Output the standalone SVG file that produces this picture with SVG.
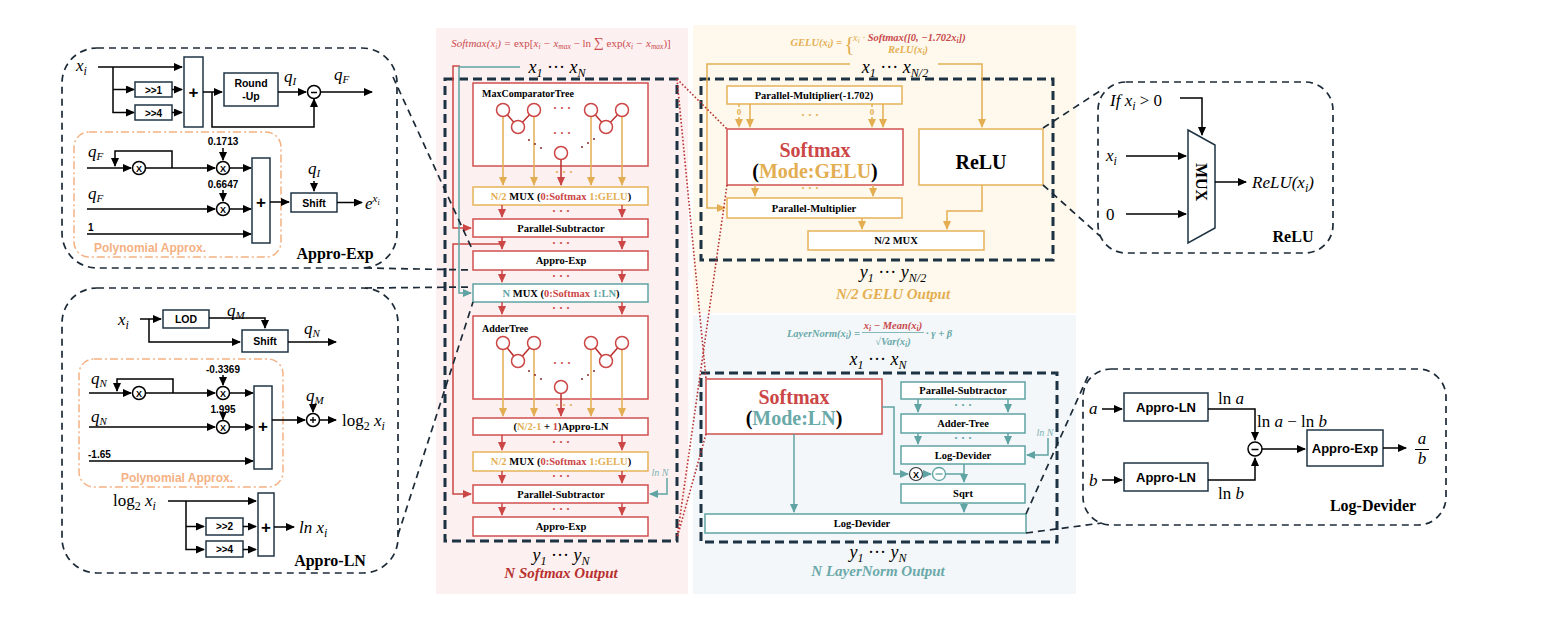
<svg xmlns="http://www.w3.org/2000/svg" width="1551" height="617" viewBox="0 0 1551 617">
<style>
.sf{font-family:"Liberation Sans",Arial,sans-serif;font-weight:bold}
.sr{font-family:"Liberation Serif","Times New Roman",serif;font-weight:bold}
.m{font-family:"Liberation Serif","DejaVu Serif",serif;font-style:italic}
.n{font-style:normal}
.k{stroke:#000;stroke-width:1.5;fill:none}
.kb{fill:#fff;stroke:#203545;stroke-width:1.5}
.zoom{fill:none;stroke:#1d2b38;stroke-width:1.7;stroke-dasharray:7 5}
.nv{fill:none;stroke:#1d3343;stroke-width:3;stroke-dasharray:9 5}
.poly{fill:none;stroke:#f4b183;stroke-width:1.5;stroke-dasharray:8 3 2 3}
.rb{fill:#fff;stroke:#d0504f;stroke-width:1.5}
.yb{fill:#fff;stroke:#e6b25a;stroke-width:1.5}
.tb{fill:#fff;stroke:#5fa3a3;stroke-width:1.5}
.ra{stroke:#cc4646;stroke-width:1.5;fill:none}
.ya{stroke:#e3ae52;stroke-width:1.5;fill:none}
.ta{stroke:#5fa3a3;stroke-width:1.5;fill:none}
.rd{stroke:#b8312f;stroke-width:1.6;fill:none;stroke-dasharray:1.6 2}
.ct{font-family:"Liberation Serif","Times New Roman",serif;font-weight:bold;font-size:10.5px;text-anchor:middle}
.cir{fill:#fff;stroke:#000;stroke-width:1.5}
.rc{fill:#fff;stroke:#cc4646;stroke-width:1.5}
.red{fill:#cc4646}.yel{fill:#e3ae52}.teal{fill:#5fa3a3}
</style>
<defs>
<marker id="ak" markerUnits="userSpaceOnUse" markerWidth="9" markerHeight="8" refX="8" refY="4" orient="auto"><path d="M0,0 L9,4 L0,8 z" fill="#000"/></marker>
<marker id="ar" markerUnits="userSpaceOnUse" markerWidth="9" markerHeight="8" refX="8" refY="4" orient="auto"><path d="M0,0 L9,4 L0,8 z" fill="#cc4646"/></marker>
<marker id="ay" markerUnits="userSpaceOnUse" markerWidth="9" markerHeight="8" refX="8" refY="4" orient="auto"><path d="M0,0 L9,4 L0,8 z" fill="#e3ae52"/></marker>
<marker id="at" markerUnits="userSpaceOnUse" markerWidth="9" markerHeight="8" refX="8" refY="4" orient="auto"><path d="M0,0 L9,4 L0,8 z" fill="#5fa3a3"/></marker>
</defs>

<!-- panel backgrounds -->
<rect x="436" y="28" width="252" height="566" fill="#fdf0f0"/>
<rect x="693" y="25" width="383" height="288" fill="#fef9ec"/>
<rect x="693" y="315" width="383" height="279" fill="#f3f7f9"/>

<!-- ============ Appro-Exp detail ============ -->
<g id="appro-exp">
<rect class="zoom" x="62" y="48" width="335" height="220" rx="35"/>
<text class="m" x="76" y="71" font-size="17">x<tspan font-size="12" dy="4">i</tspan></text>
<path class="k" d="M98,67 H182" marker-end="url(#ak)"/>
<path class="k" d="M113,67 V112.5 H134" marker-end="url(#ak)"/>
<path class="k" d="M113,89.5 H134" marker-end="url(#ak)"/>
<rect class="kb" x="135" y="82" width="37" height="15"/>
<text class="sf" x="153.5" y="93.5" font-size="10" text-anchor="middle">&gt;&gt;1</text>
<rect class="kb" x="135" y="105" width="37" height="15"/>
<text class="sf" x="153.5" y="116.5" font-size="10" text-anchor="middle">&gt;&gt;4</text>
<path class="k" d="M172,89.5 H182" marker-end="url(#ak)"/>
<path class="k" d="M172,112.5 H182" marker-end="url(#ak)"/>
<rect class="kb" x="184" y="57" width="19" height="70"/>
<text class="sf" x="193.5" y="98" font-size="17" text-anchor="middle" font-weight="normal">+</text>
<path class="k" d="M203,92 H222" marker-end="url(#ak)"/>
<path class="k" d="M212,92 V127 H314 V99" marker-end="url(#ak)"/>
<rect class="kb" x="224" y="73" width="54" height="33"/>
<text class="sf" x="251" y="87" font-size="10.5" text-anchor="middle">Round</text>
<text class="sf" x="251" y="100" font-size="10.5" text-anchor="middle">-Up</text>
<text class="m" x="284" y="82" font-size="17">q<tspan font-size="11" dy="3">I</tspan></text>
<path class="k" d="M278,92 H306" marker-end="url(#ak)"/>
<circle class="cir" cx="314" cy="92" r="6.5"/>
<path d="M311,92.5 H317" stroke="#000" stroke-width="1.5"/>
<text class="m" x="334" y="80" font-size="17">q<tspan font-size="11" dy="3">F</tspan></text>
<path class="k" d="M320.5,92 H372" marker-end="url(#ak)"/>

<rect class="poly" x="74" y="132" width="207" height="125" rx="15"/>
<text class="m" x="88" y="157" font-size="17">q<tspan font-size="11" dy="3">F</tspan></text>
<path class="k" d="M87,168 H131" marker-end="url(#ak)"/>
<path class="k" d="M145.5,168 H215" marker-end="url(#ak)"/>
<path class="k" d="M172,168 V151 H115 V166" marker-end="url(#ak)"/>
<circle class="cir" cx="139" cy="168" r="6.5"/>
<text class="sf" x="139" y="171.5" font-size="9" text-anchor="middle">X</text>
<text class="sf" x="223" y="145" font-size="10" text-anchor="middle">0.1713</text>
<path class="k" d="M223,148 V160" marker-end="url(#ak)"/>
<circle class="cir" cx="223" cy="168" r="6.5"/>
<text class="sf" x="223" y="171.5" font-size="9" text-anchor="middle">X</text>
<path class="k" d="M229.5,168 H251" marker-end="url(#ak)"/>
<text class="m" x="88" y="199" font-size="17">q<tspan font-size="11" dy="3">F</tspan></text>
<path class="k" d="M87,209 H215" marker-end="url(#ak)"/>
<text class="sf" x="223" y="188" font-size="10" text-anchor="middle">0.6647</text>
<path class="k" d="M223,190 V201" marker-end="url(#ak)"/>
<circle class="cir" cx="223" cy="209" r="6.5"/>
<text class="sf" x="223" y="212.5" font-size="9" text-anchor="middle">X</text>
<path class="k" d="M229.5,209 H251" marker-end="url(#ak)"/>
<text class="sf" x="88" y="231" font-size="10">1</text>
<path class="k" d="M87,234 H251" marker-end="url(#ak)"/>
<rect class="kb" x="252" y="158" width="18" height="85"/>
<text class="sf" x="261" y="208" font-size="17" text-anchor="middle" font-weight="normal">+</text>
<path class="k" d="M270,202 H289" marker-end="url(#ak)"/>
<rect class="kb" x="291" y="193" width="46" height="19"/>
<text class="sf" x="314" y="206.5" font-size="10.5" text-anchor="middle">Shift</text>
<text class="m" x="308" y="174" font-size="17">q<tspan font-size="11" dy="3">I</tspan></text>
<path class="k" d="M314,181 V191" marker-end="url(#ak)"/>
<path class="k" d="M337,202.5 H362" marker-end="url(#ak)"/>
<text class="m" x="365" y="209" font-size="17">e<tspan font-size="11" dy="-7">x</tspan><tspan font-size="8" dy="3">i</tspan></text>
<text class="sf" x="150" y="252" font-size="12" text-anchor="middle" fill="#f4b183">Polynomial Approx.</text>
<text class="sr" x="335" y="259" font-size="16" text-anchor="middle">Appro-Exp</text>
</g>

<!-- ============ Appro-LN detail ============ -->
<g id="appro-ln">
<rect class="zoom" x="62" y="288" width="336" height="285" rx="35"/>
<text class="m" x="118" y="325" font-size="17">x<tspan font-size="12" dy="4">i</tspan></text>
<path class="k" d="M140,319 H161" marker-end="url(#ak)"/>
<path class="k" d="M149,319 V342 H240" marker-end="url(#ak)"/>
<rect class="kb" x="163" y="310" width="46" height="18"/>
<text class="sf" x="186" y="323" font-size="10.5" text-anchor="middle">LOD</text>
<path class="k" d="M209,318 H265 V328" marker-end="url(#ak)"/>
<text class="m" x="227" y="316" font-size="17">q<tspan font-size="11" dy="3">M</tspan></text>
<rect class="kb" x="242" y="330" width="46" height="22"/>
<text class="sf" x="265" y="345" font-size="10.5" text-anchor="middle">Shift</text>
<path class="k" d="M288,342 H336" marker-end="url(#ak)"/>
<text class="m" x="304" y="334" font-size="17">q<tspan font-size="11" dy="3">N</tspan></text>

<rect class="poly" x="79" y="359" width="204" height="128" rx="15"/>
<text class="m" x="91" y="384" font-size="17">q<tspan font-size="11" dy="3">N</tspan></text>
<path class="k" d="M89,393 H131" marker-end="url(#ak)"/>
<path class="k" d="M145.5,393 H215" marker-end="url(#ak)"/>
<path class="k" d="M173,393 V379 H117 V391" marker-end="url(#ak)"/>
<circle class="cir" cx="139" cy="393" r="6.5"/>
<text class="sf" x="139" y="396.5" font-size="9" text-anchor="middle">X</text>
<text class="sf" x="223" y="373" font-size="10" text-anchor="middle">-0.3369</text>
<path class="k" d="M223,375 V385" marker-end="url(#ak)"/>
<circle class="cir" cx="223" cy="393" r="6.5"/>
<text class="sf" x="223" y="396.5" font-size="9" text-anchor="middle">X</text>
<path class="k" d="M229.5,393 H253" marker-end="url(#ak)"/>
<text class="m" x="91" y="422" font-size="17">q<tspan font-size="11" dy="3">N</tspan></text>
<path class="k" d="M89,427 H215" marker-end="url(#ak)"/>
<text class="sf" x="223" y="413" font-size="10" text-anchor="middle">1.995</text>
<path class="k" d="M223,414 V419.5" marker-end="url(#ak)"/>
<circle class="cir" cx="223" cy="427" r="6.5"/>
<text class="sf" x="223" y="430.5" font-size="9" text-anchor="middle">X</text>
<path class="k" d="M229.5,427 H253" marker-end="url(#ak)"/>
<text class="sf" x="88" y="458" font-size="10">-1.65</text>
<path class="k" d="M89,461 H253" marker-end="url(#ak)"/>
<rect class="kb" x="254" y="386" width="18" height="83"/>
<text class="sf" x="263" y="432" font-size="17" text-anchor="middle" font-weight="normal">+</text>
<path class="k" d="M272,420 H305" marker-end="url(#ak)"/>
<circle class="cir" cx="313" cy="420" r="6.5"/>
<path d="M310,420 H316 M313,417 V423" stroke="#000" stroke-width="1.3"/>
<text class="m" x="306" y="401" font-size="17">q<tspan font-size="11" dy="3">M</tspan></text>
<path class="k" d="M313,404 V412" marker-end="url(#ak)"/>
<path class="k" d="M319.5,420 H336" marker-end="url(#ak)"/>
<text class="m" x="342" y="426" font-size="17"><tspan class="n">log</tspan><tspan class="n" font-size="12" dy="4">2</tspan><tspan dy="-4"> x</tspan><tspan font-size="12" dy="4">i</tspan></text>
<text class="sf" x="177" y="482" font-size="12" text-anchor="middle" fill="#f4b183">Polynomial Approx.</text>

<text class="m" x="113" y="506" font-size="17"><tspan class="n">log</tspan><tspan class="n" font-size="12" dy="4">2</tspan><tspan dy="-4"> x</tspan><tspan font-size="12" dy="4">i</tspan></text>
<path class="k" d="M168,501 H256" marker-end="url(#ak)"/>
<path class="k" d="M186,501 V549.5 H204" marker-end="url(#ak)"/>
<path class="k" d="M186,526.5 H204" marker-end="url(#ak)"/>
<rect class="kb" x="206" y="518" width="37" height="17"/>
<text class="sf" x="224.5" y="530" font-size="10" text-anchor="middle">&gt;&gt;2</text>
<rect class="kb" x="206" y="541" width="37" height="16"/>
<text class="sf" x="224.5" y="552.5" font-size="10" text-anchor="middle">&gt;&gt;4</text>
<path class="k" d="M243,526.5 H256" marker-end="url(#ak)"/>
<path class="k" d="M243,549.5 H256" marker-end="url(#ak)"/>
<rect class="kb" x="258" y="493" width="16" height="63"/>
<text class="sf" x="266" y="533" font-size="17" text-anchor="middle" font-weight="normal">+</text>
<path class="k" d="M274,527 H294" marker-end="url(#ak)"/>
<text class="m" x="299" y="533" font-size="17">ln x<tspan font-size="12" dy="4">i</tspan></text>
<text class="sr" x="330" y="566" font-size="16" text-anchor="middle">Appro-LN</text>
</g>

<!-- ============ Softmax column ============ -->
<g id="softmax-column">
<text class="m" x="561" y="47" font-size="11" fill="#cc4b4f" text-anchor="middle">Softmax(x<tspan font-size="7.5" dy="2">i</tspan><tspan dy="-2">) = </tspan><tspan class="n">exp[</tspan>x<tspan font-size="7.5" dy="2">i</tspan><tspan dy="-2"> − x</tspan><tspan font-size="7.5" dy="2">max</tspan><tspan dy="-2" class="n"> − ln </tspan><tspan class="n" font-size="14">∑</tspan><tspan class="n"> exp(</tspan>x<tspan font-size="7.5" dy="2">i</tspan><tspan dy="-2"> − x</tspan><tspan font-size="7.5" dy="2">max</tspan><tspan dy="-2" class="n">)]</tspan></text>
<text class="m" x="557" y="73" font-size="18" text-anchor="middle">x<tspan font-size="12" dy="4">1</tspan><tspan class="n" dy="-4"> ··· </tspan>x<tspan font-size="12" dy="4">N</tspan></text>
<rect class="nv" x="445" y="79" width="232" height="462"/>

<rect class="rb" x="473" y="83" width="175" height="83"/>
<text class="sr" x="482" y="97" font-size="10">MaxComparatorTree</text>
<path d="M503,110 L518,127 L534,110 M591,110 L606,127 L622,110" stroke="#b8312f" stroke-width="1.5" fill="none"/>
<path class="ya" d="M503,116 V185" marker-end="url(#ay)"/>
<path class="ya" d="M534,116 V185" marker-end="url(#ay)"/>
<path class="ya" d="M591,116 V185" marker-end="url(#ay)"/>
<path class="ya" d="M622,116 V185" marker-end="url(#ay)"/>
<path d="M561,159 V185" stroke="#b8312f" stroke-width="1.5" marker-end="url(#ar)"/>
<circle class="rc" cx="503" cy="110" r="6.5"/><circle class="rc" cx="534" cy="110" r="6.5"/><circle class="rc" cx="518" cy="127" r="6.5"/>
<circle class="rc" cx="591" cy="110" r="6.5"/><circle class="rc" cx="622" cy="110" r="6.5"/><circle class="rc" cx="606" cy="127" r="6.5"/>
<circle class="rc" cx="561" cy="153" r="6.5"/>
<text x="562" y="112" font-size="12" text-anchor="middle" class="red sr">· · ·</text>
<text x="562" y="137" font-size="12" text-anchor="middle" class="red sr">· · ·</text>
<g fill="#8a2b2b"><circle cx="529" cy="140" r="1"/><circle cx="535" cy="144" r="1"/><circle cx="541" cy="148" r="1"/><circle cx="582" cy="147" r="1"/><circle cx="588" cy="143" r="1"/><circle cx="594" cy="139" r="1"/></g>
<text x="564" y="176" font-size="12" text-anchor="middle" class="yel sr">· · ·</text>

<rect class="yb" x="473" y="187" width="175" height="18"/>
<text class="ct" x="561" y="200"><tspan class="yel">N/2 </tspan>MUX (<tspan class="red">0:Softmax </tspan> <tspan class="yel">1:GELU</tspan>)</text>
<path class="ra" d="M502,205 V217" marker-end="url(#ar)"/><path class="ra" d="M622,205 V217" marker-end="url(#ar)"/>
<text x="561" y="215" font-size="12" text-anchor="middle" class="red sr">· · ·</text>
<rect class="rb" x="473" y="219" width="175" height="18"/>
<text class="ct" x="561" y="232">Parallel-Subtractor</text>
<path class="ra" d="M502,237 V249" marker-end="url(#ar)"/><path class="ra" d="M622,237 V249" marker-end="url(#ar)"/>
<text x="561" y="247" font-size="12" text-anchor="middle" class="red sr">· · ·</text>
<rect class="rb" x="473" y="251" width="175" height="19"/>
<text class="ct" x="561" y="264">Appro-Exp</text>
<path class="ra" d="M502,270 V282" marker-end="url(#ar)"/><path class="ra" d="M622,270 V282" marker-end="url(#ar)"/>
<text x="561" y="280" font-size="12" text-anchor="middle" class="red sr">· · ·</text>
<rect class="tb" x="473" y="284" width="175" height="18"/>
<text class="ct" x="561" y="297"><tspan class="teal">N </tspan>MUX (<tspan class="red">0:Softmax </tspan> <tspan class="teal">1:LN</tspan>)</text>
<path class="ra" d="M502,302 V314" marker-end="url(#ar)"/><path class="ra" d="M622,302 V314" marker-end="url(#ar)"/>
<text x="561" y="312" font-size="12" text-anchor="middle" class="red sr">· · ·</text>

<rect class="rb" x="473" y="316" width="175" height="83"/>
<text class="sr" x="482" y="332" font-size="10">AdderTree</text>
<path d="M503,343 L518,361 L534,343 M591,343 L606,361 L622,343" stroke="#b8312f" stroke-width="1.5" fill="none"/>
<path class="ya" d="M503,349 V416" marker-end="url(#ay)"/>
<path class="ya" d="M534,349 V416" marker-end="url(#ay)"/>
<path class="ya" d="M591,349 V416" marker-end="url(#ay)"/>
<path class="ya" d="M622,349 V416" marker-end="url(#ay)"/>
<path d="M561,393 V416" stroke="#b8312f" stroke-width="1.5" marker-end="url(#ar)"/>
<circle class="rc" cx="503" cy="343" r="6.5"/><circle class="rc" cx="534" cy="343" r="6.5"/><circle class="rc" cx="518" cy="361" r="6.5"/>
<circle class="rc" cx="591" cy="343" r="6.5"/><circle class="rc" cx="622" cy="343" r="6.5"/><circle class="rc" cx="606" cy="361" r="6.5"/>
<circle class="rc" cx="561" cy="387" r="6.5"/>
<text x="562" y="367" font-size="12" text-anchor="middle" class="red sr">· · ·</text>
<g fill="#8a2b2b"><circle cx="529" cy="371" r="1"/><circle cx="535" cy="375" r="1"/><circle cx="541" cy="379" r="1"/><circle cx="582" cy="379" r="1"/><circle cx="588" cy="375" r="1"/><circle cx="594" cy="371" r="1"/></g>
<text x="564" y="409" font-size="12" text-anchor="middle" class="yel sr">· · ·</text>

<rect class="rb" x="473" y="418" width="175" height="17"/>
<text class="ct" x="561" y="430">(<tspan class="yel">N/2-1</tspan> + <tspan class="red">1</tspan>)Appro-LN</text>
<path class="ra" d="M502,435 V450" marker-end="url(#ar)"/><path class="ra" d="M622,435 V450" marker-end="url(#ar)"/>
<text x="561" y="446" font-size="12" text-anchor="middle" class="red sr">· · ·</text>
<rect class="yb" x="473" y="452" width="175" height="19"/>
<text class="ct" x="561" y="465"><tspan class="yel">N/2 </tspan>MUX (<tspan class="red">0:Softmax </tspan> <tspan class="yel">1:GELU</tspan>)</text>
<path class="ra" d="M502,471 V483" marker-end="url(#ar)"/><path class="ra" d="M622,471 V483" marker-end="url(#ar)"/>
<text x="561" y="480" font-size="12" text-anchor="middle" class="red sr">· · ·</text>
<rect class="rb" x="473" y="485" width="175" height="18"/>
<text class="ct" x="561" y="498">Parallel-Subtractor</text>
<path class="ra" d="M502,503 V515" marker-end="url(#ar)"/><path class="ra" d="M622,503 V515" marker-end="url(#ar)"/>
<text x="561" y="513" font-size="12" text-anchor="middle" class="red sr">· · ·</text>
<rect class="rb" x="473" y="517" width="175" height="19"/>
<text class="ct" x="561" y="530">Appro-Exp</text>

<text class="m" x="561" y="561" font-size="18" text-anchor="middle">y<tspan font-size="12" dy="4">1</tspan><tspan class="n" dy="-4"> ··· </tspan>y<tspan font-size="12" dy="4">N</tspan></text>
<text class="sr" x="561" y="578" font-size="15" font-style="italic" text-anchor="middle" fill="#b8312f">N Softmax Output</text>
<text class="m" x="660" y="476" font-size="10" text-anchor="middle" fill="#7fb3b3">ln N</text>
</g>

<!-- ============ GELU panel ============ -->
<g id="gelu-panel">
<text class="m" x="842" y="46" font-size="10.5" font-weight="bold" fill="#e3ae52" text-anchor="end">GELU(x<tspan font-size="7.5" dy="2">i</tspan><tspan dy="-2">) =</tspan></text>
<text x="844" y="51" font-size="22" fill="#e3ae52" font-family="Liberation Serif,serif">{</text>
<text class="m" x="853" y="41" font-size="10.5" fill="#e3ae52">x<tspan font-size="7.5" dy="2">i</tspan><tspan dy="-2"> · </tspan><tspan fill="#c9484c" font-weight="bold">Softmax([0, −1.702x</tspan><tspan fill="#c9484c" font-weight="bold" font-size="7.5" dy="2">i</tspan><tspan fill="#c9484c" font-weight="bold" dy="-2">])</tspan></text>
<text class="m" x="908" y="53" font-size="10.5" font-weight="bold" fill="#e3ae52" text-anchor="middle">ReLU(x<tspan font-size="7.5" dy="2">i</tspan><tspan dy="-2">)</tspan></text>
<text class="m" x="895" y="73" font-size="18" text-anchor="middle">x<tspan font-size="12" dy="4">1</tspan><tspan class="n" dy="-4"> ··· </tspan>x<tspan font-size="12" dy="4">N/2</tspan></text>
<rect class="nv" x="701" y="79" width="352" height="181"/>

<rect class="yb" x="727" y="86" width="175" height="18"/>
<text class="ct" x="814" y="99">Parallel-Multiplier(-1.702)</text>
<path class="ya" d="M739,117 V127" stroke-dasharray="3 2" marker-end="url(#ay)"/>
<path class="ya" d="M739,104 V107" stroke-dasharray="3 2"/>
<text class="sr" x="739" y="115" font-size="9" text-anchor="middle" fill="#e3ae52" font-weight="normal">0</text>
<path class="ya" d="M872,117 V127" stroke-dasharray="3 2" marker-end="url(#ay)"/>
<path class="ya" d="M872,104 V107" stroke-dasharray="3 2"/>
<text class="sr" x="872" y="115" font-size="9" text-anchor="middle" fill="#e3ae52" font-weight="normal">0</text>
<path class="ya" d="M750,104 V127" marker-end="url(#ay)"/>
<path class="ya" d="M883,104 V127" marker-end="url(#ay)"/>
<text x="810" y="119" font-size="12" text-anchor="middle" class="yel sr">· · ·</text>

<rect class="rb" x="727" y="129" width="176" height="56"/>
<text class="sr" x="815" y="157" font-size="20" text-anchor="middle" fill="#cc4646">Softmax</text>
<text class="sr" x="815" y="178" font-size="20" text-anchor="middle">(<tspan fill="#e3ae52">Mode:GELU</tspan>)</text>
<rect class="yb" x="919" y="129" width="124" height="56"/>
<text class="sr" x="981" y="169" font-size="20" text-anchor="middle">ReLU</text>

<path class="ya" d="M755,185 V196" marker-end="url(#ay)"/>
<path class="ya" d="M873,185 V196" marker-end="url(#ay)"/>
<text x="810" y="192" font-size="12" text-anchor="middle" class="yel sr">· · ·</text>
<rect class="yb" x="727" y="198" width="175" height="20"/>
<text class="ct" x="814" y="212">Parallel-Multiplier</text>
<path class="ya" d="M862,218 V229" marker-end="url(#ay)"/>
<path class="ya" d="M982,185 V211 H947 V229" marker-end="url(#ay)"/>
<rect class="yb" x="808" y="231" width="176" height="19"/>
<text class="ct" x="896" y="244">N/2 MUX</text>

<text class="m" x="893" y="278" font-size="18" text-anchor="middle">y<tspan font-size="12" dy="4">1</tspan><tspan class="n" dy="-4"> ··· </tspan>y<tspan font-size="12" dy="4">N/2</tspan></text>
<text class="sr" x="893" y="299" font-size="15" font-style="italic" text-anchor="middle" fill="#e3ae52">N/2 GELU Output</text>
</g>

<!-- ============ LayerNorm panel ============ -->
<g id="layernorm-panel">
<text class="m" x="860" y="337" font-size="10.5" font-weight="bold" fill="#6aa9a9" text-anchor="end">LayerNorm(x<tspan font-size="7.5" dy="2">i</tspan><tspan dy="-2">) =</tspan></text>
<text class="m" x="893" y="329" font-size="10.5" font-weight="bold" fill="#c9484c" text-anchor="middle">x<tspan font-size="7.5" dy="2">i</tspan><tspan dy="-2"> − Mean(x</tspan><tspan font-size="7.5" dy="2">i</tspan><tspan dy="-2">)</tspan></text>
<path d="M862,332.5 H924" stroke="#6aa9a9" stroke-width="0.8"/>
<text class="m" x="893" y="345" font-size="10.5" font-weight="bold" fill="#6aa9a9" text-anchor="middle"><tspan class="n">√</tspan>Var(x<tspan font-size="7.5" dy="2">i</tspan><tspan dy="-2">)</tspan></text>
<text class="m" x="926" y="337" font-size="10.5" font-weight="bold" fill="#6aa9a9">· γ + β</text>
<text class="m" x="878" y="365" font-size="18" text-anchor="middle">x<tspan font-size="12" dy="4">1</tspan><tspan class="n" dy="-4"> ··· </tspan>x<tspan font-size="12" dy="4">N</tspan></text>
<rect class="nv" x="701" y="373" width="356" height="169"/>

<rect class="rb" x="706" y="379" width="176" height="55"/>
<text class="sr" x="794" y="404" font-size="20" text-anchor="middle" fill="#cc4646">Softmax</text>
<text class="sr" x="794" y="425" font-size="20" text-anchor="middle">(<tspan fill="#6aa9a9">Mode:LN</tspan>)</text>

<rect class="tb" x="901" y="382" width="124" height="17"/>
<text class="ct" x="963" y="394">Parallel-Subtractor</text>
<path class="ta" d="M918,399 V412" marker-end="url(#at)"/><path class="ta" d="M1008,399 V412" marker-end="url(#at)"/>
<text x="963" y="409" font-size="12" text-anchor="middle" class="teal sr">· · ·</text>
<rect class="tb" x="901" y="414" width="124" height="19"/>
<text class="ct" x="963" y="427">Adder-Tree</text>
<path class="ta" d="M918,433 V444" marker-end="url(#at)"/><path class="ta" d="M1008,433 V444" marker-end="url(#at)"/>
<text x="963" y="442" font-size="12" text-anchor="middle" class="teal sr">· · ·</text>
<rect class="tb" x="901" y="446" width="124" height="18"/>
<text class="ct" x="963" y="459">Log-Devider</text>
<text class="m" x="1045" y="436" font-size="10" text-anchor="middle" fill="#7fb3b3">ln N</text>

<path class="ta" d="M882,407 H894 V474 H908" marker-end="url(#at)"/>
<circle cx="916" cy="474" r="6.5" fill="#fff" stroke="#333" stroke-width="1.2"/>
<text class="sf" x="916" y="477.5" font-size="9" text-anchor="middle" font-weight="normal">X</text>
<path class="ta" d="M922.5,474 H931" marker-end="url(#at)"/>
<circle cx="939" cy="474" r="6.5" fill="#fff" stroke="#5fa3a3" stroke-width="1.3"/>
<path d="M935.5,474 H942.5" stroke="#5fa3a3" stroke-width="1.3"/>
<path class="ta" d="M945.5,474 H964"/>
<path class="ta" d="M964,464 V482" marker-end="url(#at)"/>
<rect class="tb" x="901" y="484" width="124" height="19"/>
<text class="ct" x="963" y="497">Sqrt</text>
<path class="ta" d="M964,503 V512" marker-end="url(#at)"/>
<path class="ta" d="M794,434 V512" marker-end="url(#at)"/>
<rect class="tb" x="705" y="514" width="321" height="19"/>
<text class="ct" x="862" y="527">Log-Devider</text>

<text class="m" x="878" y="558" font-size="18" text-anchor="middle">y<tspan font-size="12" dy="4">1</tspan><tspan class="n" dy="-4"> ··· </tspan>y<tspan font-size="12" dy="4">N</tspan></text>
<text class="sr" x="878" y="576" font-size="15" font-style="italic" text-anchor="middle" fill="#6aa9a9">N LayerNorm Output</text>
</g>

<!-- ============ ReLU detail ============ -->
<g id="relu-detail">
<rect class="zoom" x="1098" y="82" width="235" height="171" rx="28"/>
<text class="m" x="1110" y="106" font-size="17">If x<tspan font-size="12" dy="4">i</tspan><tspan class="n" dy="-4"> &gt; 0</tspan></text>
<path class="k" d="M1180,98 H1202 V135" marker-end="url(#ak)"/>
<text class="m" x="1106" y="161" font-size="17">x<tspan font-size="12" dy="4">i</tspan></text>
<path class="k" d="M1126,156 H1186" marker-end="url(#ak)"/>
<text class="m n" x="1106" y="220" font-size="17" font-style="normal">0</text>
<path class="k" d="M1126,214 H1186" marker-end="url(#ak)"/>
<polygon points="1188,130 1215,145 1215,228 1188,243" fill="#fff" stroke="#1d3343" stroke-width="1.5"/>
<text class="sr" x="0" y="0" font-size="16" text-anchor="middle" transform="translate(1196,182) rotate(90)">MUX</text>
<path class="k" d="M1215,182 H1246" marker-end="url(#ak)"/>
<text class="m" x="1252" y="188" font-size="17">ReLU(x<tspan font-size="12" dy="4">i</tspan><tspan dy="-4">)</tspan></text>
<text class="sr" x="1293" y="242" font-size="16" text-anchor="middle">ReLU</text>
</g>

<!-- ============ Log-Devider detail ============ -->
<g id="log-devider-detail">
<rect class="zoom" x="1083" y="369" width="363" height="156" rx="28"/>
<text class="m" x="1089" y="414" font-size="17">a</text>
<path class="k" d="M1102,409 H1122" marker-end="url(#ak)"/>
<rect class="kb" x="1124" y="393" width="84" height="28"/>
<text class="sf" x="1166" y="412" font-size="13" text-anchor="middle">Appro-LN</text>
<text class="m" x="1089" y="486" font-size="17">b</text>
<path class="k" d="M1102,480 H1122" marker-end="url(#ak)"/>
<rect class="kb" x="1124" y="463" width="84" height="28"/>
<text class="sf" x="1166" y="482" font-size="13" text-anchor="middle">Appro-LN</text>
<text class="m" x="1218" y="404" font-size="17"><tspan class="n">ln </tspan>a</text>
<path class="k" d="M1208,409 H1255 V440" marker-end="url(#ak)"/>
<text class="m" x="1218" y="499" font-size="17"><tspan class="n">ln </tspan>b</text>
<path class="k" d="M1208,480 H1255 V458" marker-end="url(#ak)"/>
<text class="m" x="1257" y="427" font-size="17"><tspan class="n">ln </tspan>a<tspan class="n"> − ln </tspan>b</text>
<circle class="cir" cx="1255" cy="449" r="7"/>
<path d="M1251.5,449.5 H1258.5" stroke="#000" stroke-width="1.5"/>
<path class="k" d="M1262,449 H1305" marker-end="url(#ak)"/>
<rect class="kb" x="1307" y="430" width="76" height="36"/>
<text class="sf" x="1345" y="453" font-size="13" text-anchor="middle">Appro-Exp</text>
<path class="k" d="M1383,448 H1406" marker-end="url(#ak)"/>
<text class="m" x="1422" y="444" font-size="17" text-anchor="middle">a</text>
<path d="M1415,449.5 H1429" stroke="#000" stroke-width="1"/>
<text class="m" x="1422" y="464" font-size="17" text-anchor="middle">b</text>
<text class="sr" x="1373" y="511" font-size="16" text-anchor="middle">Log-Devider</text>
</g>

<!-- ============ connectors ============ -->
<g id="connectors">
<path class="ra" d="M460,66 H453 V228 H471" marker-end="url(#ar)"/>
<path class="ra" d="M502,244 H453 V494 H471" marker-end="url(#ar)"/>
<path class="ta" d="M520,67 H459 V293 H471" marker-end="url(#at)"/>
<path class="ta" d="M1048,438 V455 H1027" marker-end="url(#at)"/>
<path class="ta" d="M667,478 V494 H650" marker-end="url(#at)"/>
<path class="ya" d="M850,64 H707 V208 H725" marker-end="url(#ay)"/>
<path class="ya" d="M938,64 H982 V127" marker-end="url(#ay)"/>
<!-- zoom callouts -->
<path class="zoom" d="M393,77 L473,251"/>
<path class="zoom" d="M365,268 L473,270"/>
<path class="zoom" d="M365,288 L473,287"/>
<path class="zoom" d="M398,535 L473,302"/>
<path class="zoom" d="M1043,128 L1100,91"/>
<path class="zoom" d="M1043,185 L1100,236"/>
<path class="zoom" d="M1026,514 L1088,376"/>
<path class="zoom" d="M1026,533 L1102,523"/>
<path class="rd" d="M677,79 L727,129"/>
<path class="rd" d="M677,79 L706,379"/>
<path class="rd" d="M727,185 L677,538"/>
<path class="rd" d="M706,434 L677,538"/>
</g>
</svg>
